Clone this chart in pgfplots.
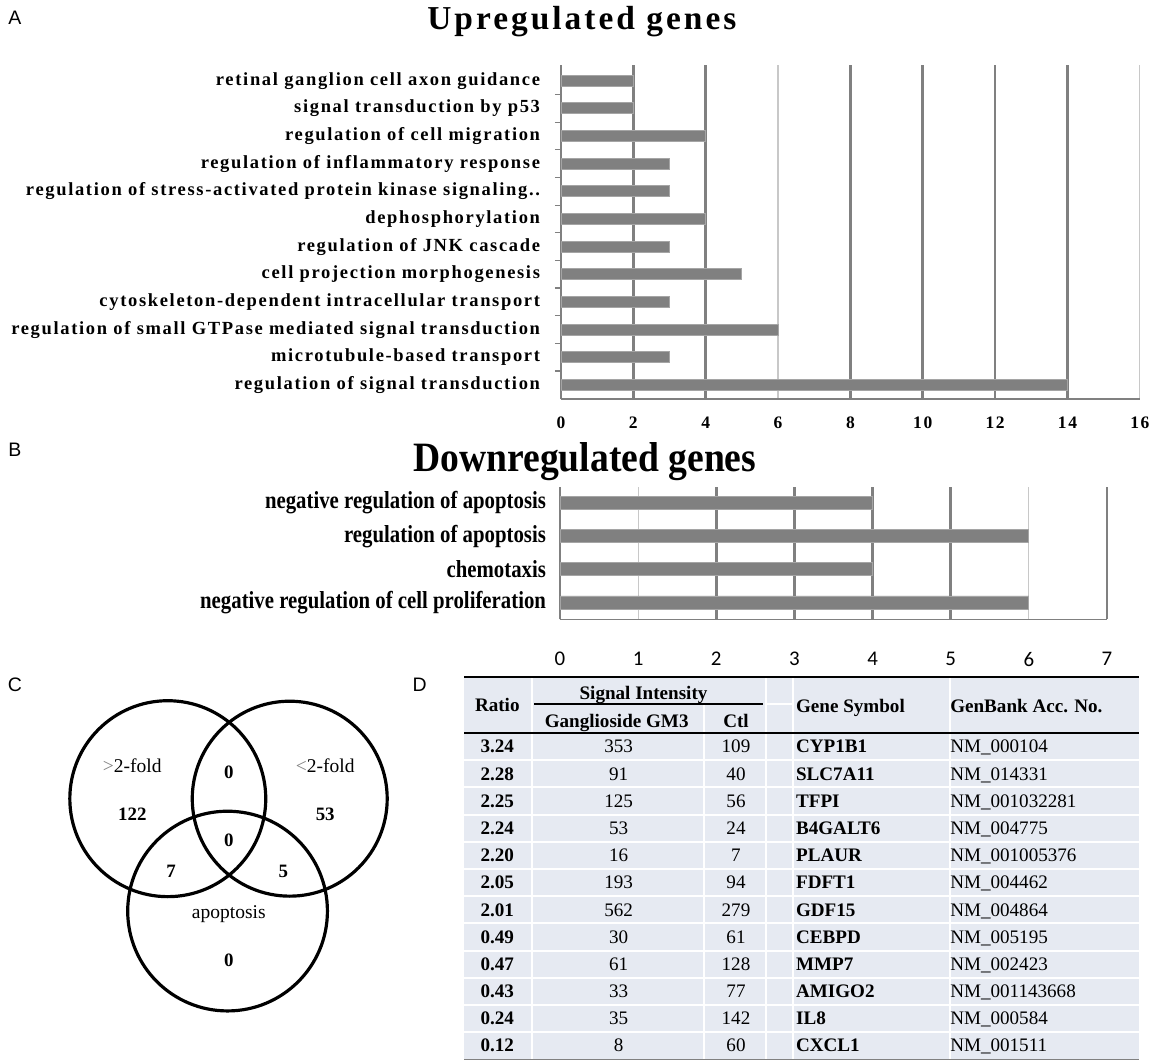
\documentclass[border=0pt]{standalone}
\usepackage{fontspec}
\usepackage{pgfplots}
\pgfplotsset{compat=1.18}
\setmainfont{Liberation Serif}
\newfontfamily\spaced[LetterSpace=9]{Liberation Serif}
\newfontfamily\tspaced[LetterSpace=9]{Liberation Serif}
\newfontfamily\narrow[FakeStretch=0.85]{Liberation Serif}
\newfontfamily\narrowT[FakeStretch=0.9]{Liberation Serif}
\newfontfamily\arial{Liberation Sans}
\newfontfamily\calib{Carlito}
\definecolor{barc}{RGB}{128,128,128}
\definecolor{bare}{RGB}{165,165,165}
\definecolor{gridc}{RGB}{128,128,128}
\definecolor{lgrid}{RGB}{200,200,200}
\definecolor{tbl}{RGB}{230,234,242}
\begin{document}
\begin{tikzpicture}
\begin{scope}[x=0.5pt,y=-0.5pt]
\useasboundingbox (0,0) rectangle (1156,1067);
% panel letters
\node[anchor=base,inner sep=0] at (15,25) {\arial\fontsize{9.8}{11}\selectfont A};
\node[anchor=base,inner sep=0] at (15,459) {\arial\fontsize{9.8}{11}\selectfont B};
\node[anchor=base,inner sep=0] at (15,695) {\arial\fontsize{9.8}{11}\selectfont C};
\node[anchor=base,inner sep=0] at (422,695) {\arial\fontsize{9.8}{11}\selectfont D};
% titles
\node[anchor=base,inner sep=0] at (585,30) {\tspaced\bfseries\fontsize{16.8}{18}\selectfont Upregulated genes};
\node[anchor=base,inner sep=0] at (588,474) {\narrowT\bfseries\fontsize{21}{24}\selectfont Downregulated genes};
% Venn diagram
\draw[line width=1.6pt] (168.7,803) circle[radius=49.25pt];
\draw[line width=1.6pt] (291.3,803) circle[radius=49pt];
\draw[line width=1.6pt] (228.8,916) circle[radius=50.2pt];
\node[anchor=base,inner sep=0] at (133,777) {\fontsize{9.8}{11}\selectfont\textcolor{gray}{>}2-fold};
\node[anchor=base,inner sep=0] at (133,825) {\bfseries\fontsize{9.5}{11}\selectfont 122};
\node[anchor=base,inner sep=0] at (230,783) {\bfseries\fontsize{9.5}{11}\selectfont 0};
\node[anchor=base,inner sep=0] at (327,777) {\fontsize{9.8}{11}\selectfont\textcolor{gray}{<}2-fold};
\node[anchor=base,inner sep=0] at (327,825) {\bfseries\fontsize{9.5}{11}\selectfont 53};
\node[anchor=base,inner sep=0] at (230,851) {\bfseries\fontsize{9.5}{11}\selectfont 0};
\node[anchor=base,inner sep=0] at (172,882) {\bfseries\fontsize{9.5}{11}\selectfont 7};
\node[anchor=base,inner sep=0] at (285,882) {\bfseries\fontsize{9.5}{11}\selectfont 5};
\node[anchor=base,inner sep=0] at (230,923) {\fontsize{9.8}{11}\selectfont apoptosis};
\node[anchor=base,inner sep=0] at (230,972) {\bfseries\fontsize{9.5}{11}\selectfont 0};
% Table
\fill[tbl] (467,682) rectangle (1145,1065);
\foreach \k in {1,...,11}{
  \pgfmathsetmacro\yl{737+27.33*\k}
  \draw[white,line width=1pt] (467,\yl) -- (1145,\yl);
}
\draw[white,line width=1pt] (535,682) -- (535,1065);
\draw[white,line width=1pt] (708,709) -- (708,1065);
\draw[white,line width=1pt] (770,682) -- (770,1065);
\draw[white,line width=1pt] (797,682) -- (797,1065);
\draw[white,line width=1pt] (955,682) -- (955,1065);
\draw[white,line width=1pt] (770,708) -- (797,708);
\draw[black,line width=1.1pt] (467,681) -- (1145,681);
\draw[black,line width=1.1pt] (467,737) -- (1145,737);
\draw[black,line width=0.8pt] (537,708) -- (767,708);
\draw[gray,line width=0.6pt] (467,1065) -- (1145,1065);
\node[anchor=base,inner sep=0] at (500,715) {\bfseries\fontsize{9.6}{11}\selectfont Ratio};
\node[anchor=base,inner sep=0] at (647,703) {\bfseries\fontsize{9.6}{11}\selectfont Signal Intensity};
\node[anchor=base,inner sep=0] at (620,731) {\bfseries\fontsize{9.6}{11}\selectfont Ganglioside GM3};
\node[anchor=base,inner sep=0] at (740,731) {\bfseries\fontsize{9.6}{11}\selectfont Ctl};
\node[anchor=base west,inner sep=0] at (800,716) {\bfseries\fontsize{9.6}{11}\selectfont Gene Symbol};
\node[anchor=base west,inner sep=0] at (955,716) {\bfseries\fontsize{9.6}{11}\selectfont GenBank Acc. No.};
\foreach \vr/\vg/\vc/\vs/\vn [count=\i from 0] in {
3.24/353/109/CYP1B1/NM\_000104,
2.28/91/40/SLC7A11/NM\_014331,
2.25/125/56/TFPI/NM\_001032281,
2.24/53/24/B4GALT6/NM\_004775,
2.20/16/7/PLAUR/NM\_001005376,
2.05/193/94/FDFT1/NM\_004462,
2.01/562/279/GDF15/NM\_004864,
0.49/30/61/CEBPD/NM\_005195,
0.47/61/128/MMP7/NM\_002423,
0.43/33/77/AMIGO2/NM\_001143668,
0.24/35/142/IL8/NM\_000584,
0.12/8/60/CXCL1/NM\_001511}{
  \pgfmathsetmacro\yb{750.7+27.33*\i+6.3}
  \node[anchor=base,inner sep=0] at (500,\yb) {\bfseries\fontsize{9.6}{11}\selectfont \vr};
  \node[anchor=base,inner sep=0] at (622,\yb) {\fontsize{9.6}{11}\selectfont \vg};
  \node[anchor=base,inner sep=0] at (740,\yb) {\fontsize{9.6}{11}\selectfont \vc};
  \node[anchor=base west,inner sep=0] at (800,\yb) {\bfseries\fontsize{9.6}{11}\selectfont \vs};
  \node[anchor=base west,inner sep=0] at (955,\yb) {\fontsize{9.6}{11}\selectfont \vn};
}
\end{scope}
% Panel A
\begin{axis}[
  at={(282pt,-32.5pt)}, anchor=north west,
  scale only axis, width=291pt, height=168.2pt,
  xmin=0, xmax=16, ymin=-0.52, ymax=11.58,
  axis lines*=left,
  axis line style={draw=gridc, line width=0.8pt},
  xtick={0,2,...,16},
  xmajorgrids=true,
  major grid style={draw=lgrid, line width=0.6pt},
  extra x ticks={2,4,8,10,12,14},
  extra x tick labels={},
  extra x tick style={grid=major, major grid style={draw=gridc, line width=1.3pt}},
  ytick={0,...,11},
  yticklabels={regulation of signal transduction, microtubule-based transport, regulation of small GTPase mediated signal transduction, cytoskeleton-dependent intracellular transport, cell projection morphogenesis, regulation of JNK cascade, dephosphorylation, regulation of stress-activated protein kinase signaling.., regulation of inflammatory response, regulation of cell migration, signal transduction by p53, retinal ganglion cell axon guidance},
  major tick length=0pt,
  minor y tick num=1, minor x tick num=0,
  minor tick length=3pt, tick align=outside,
  minor tick style={draw=gridc, line width=0.6pt},
  /pgf/number format/assume math mode=true,
  x tick label style={font=\spaced\bfseries\fontsize{8.8}{10}\selectfont, anchor=north, yshift=-5.5pt},
  y tick label style={font=\spaced\bfseries\fontsize{9.3}{10}\selectfont, anchor=east, xshift=-7pt},
]
\addplot[xbar, bar width=5.5pt, fill=barc, draw=bare, line width=0.4pt]
coordinates {(14,0) (3,1) (6,2) (3,3) (5,4) (3,5) (4,6) (3,7) (3,8) (4,9) (2,10) (2,11)};
\end{axis}
% Panel B
\begin{axis}[
  at={(281.5pt,-245pt)}, anchor=north west,
  scale only axis, width=275pt, height=66.35pt,
  xmin=0, xmax=7, ymin=-0.51, ymax=3.47,
  axis lines*=left,
  axis line style={draw=gridc, line width=0.8pt},
  xtick={0,...,7},
  xmajorgrids=true,
  major grid style={draw=lgrid, line width=0.6pt},
  extra x ticks={2,3,4,5,7},
  extra x tick labels={},
  extra x tick style={grid=major, major grid style={draw=gridc, line width=1.3pt}},
  ytick={0,...,3},
  yticklabels={negative regulation of cell proliferation, chemotaxis, regulation of apoptosis, negative regulation of apoptosis},
  major tick length=0pt,
  /pgf/number format/assume math mode=true,
  x tick label style={font=\calib\fontsize{10.5}{12}\selectfont, anchor=north, yshift=-13pt},
  y tick label style={font=\narrow\bfseries\fontsize{12.3}{14}\selectfont, anchor=east, xshift=-3.5pt},
]
\addplot[xbar, bar width=6.5pt, fill=barc, draw=bare, line width=0.4pt]
coordinates {(6,0) (4,1) (6,2) (4,3)};
\end{axis}
\end{tikzpicture}
\end{document}
